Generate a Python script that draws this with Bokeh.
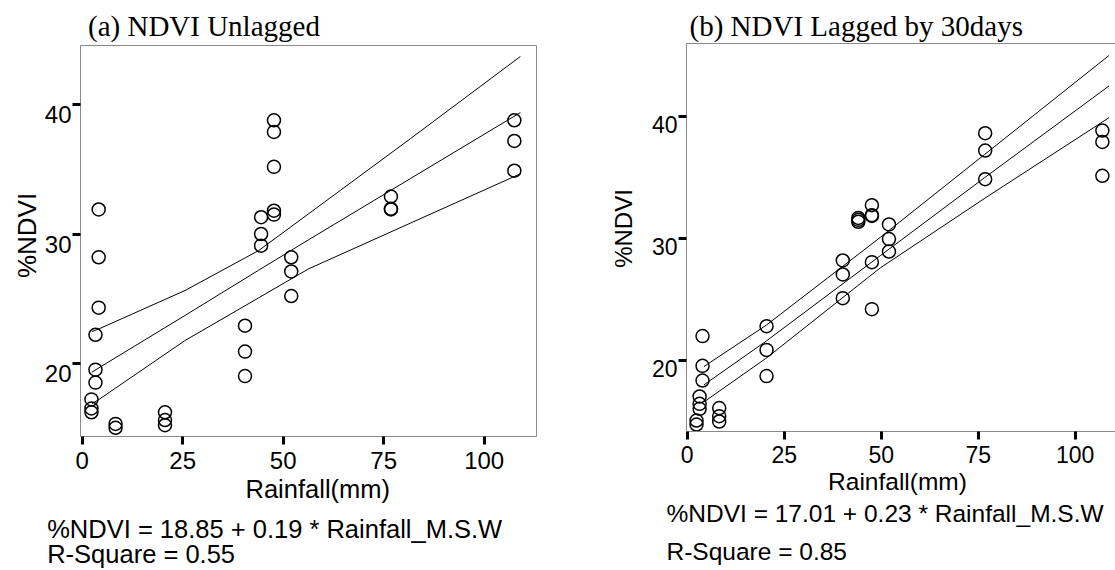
import math
from bokeh.plotting import figure
from bokeh.models import LinearAxis, FixedTicker, Range1d, Label
from bokeh.layouts import row
from bokeh.embed import file_html
from bokeh.resources import INLINE

# ---------------- data ----------------
x_ticks = [0, 25, 50, 75, 100]
y_ticks = [20, 30, 40]

# (a) NDVI unlagged
a_rain = [4.1, 4.1, 4.1, 3.3, 3.3, 3.3, 2.3, 2.3, 2.3, 8.3, 8.3,
          20.6, 20.6, 20.6, 40.5, 40.5, 40.5, 44.5, 44.5, 44.5,
          47.7, 47.7, 47.7, 47.7, 47.7, 52.0, 52.0, 52.0,
          76.8, 76.8, 76.8, 107.5, 107.5, 107.5]
a_ndvi = [31.9, 28.2, 24.3, 22.2, 19.5, 18.5, 17.2, 16.5, 16.2, 15.3, 15.0,
          16.2, 15.6, 15.2, 22.9, 20.9, 19.0, 31.3, 30.0, 29.1,
          38.8, 37.9, 35.2, 31.8, 31.5, 28.2, 27.1, 25.2,
          32.9, 31.9, 31.95, 38.8, 37.2, 34.9]
a_fit_x = [2.4, 4.2, 25.6, 43.9, 56.3, 81.7, 109]
a_fit_mid = [19.3, 19.65, 23.7, 27.2, 29.55, 34.3, 39.4]
a_fit_upper = [22.45, 22.66, 25.63, 28.72, 31.56, 37.39, 43.74]
a_fit_lower = [16.86, 17.2, 21.76, 25.06, 27.3, 30.85, 34.66]

# (b) NDVI lagged by 30 days
b_rain = [3.95, 3.95, 3.95, 3.2, 3.2, 3.2, 2.4, 2.4, 8.25, 8.25, 8.25,
          20.45, 20.45, 20.45, 40.1, 40.1, 40.1, 44.1, 44.1, 44.1,
          47.6, 47.6, 47.6, 47.6, 47.6, 52.0, 52.0, 52.0,
          76.8, 76.8, 76.8, 107.0, 107.0, 107.0]
b_ndvi = [22.0, 19.56, 18.36, 17.05, 16.45, 16.04, 15.08, 14.75, 16.1, 15.44, 15.0,
          22.81, 20.87, 18.72, 28.2, 27.05, 25.11, 31.69, 31.53, 31.37,
          32.73, 31.91, 31.85, 28.06, 24.21, 31.15, 29.95, 28.93,
          38.63, 37.21, 34.86, 38.85, 37.92, 35.14]
b_fit_x = [4.3, 20.4, 49.8, 76.7, 108.7]
b_fit_mid = [18.0, 21.6, 28.6, 35.0, 42.5]
b_fit_upper = [19.5, 22.9, 30.1, 36.9, 45.0]
b_fit_lower = [16.6, 20.2, 27.6, 33.3, 39.9]

title_a = "(a) NDVI Unlagged"
title_b = "(b) NDVI Lagged by 30days"
x_title = "Rainfall(mm)"
y_title = "%NDVI"
eq_a = "%NDVI = 18.85 + 0.19 * Rainfall_M.S.W"
r2_a = "R-Square = 0.55"
eq_b = "%NDVI = 17.01 + 0.23 * Rainfall_M.S.W"
r2_b = "R-Square = 0.85"

SANS = "Liberation Sans"
SERIF = "Liberation Serif"
GRAY = "#8a8a8a"
H = 570


class Geo:
    """Pixel calibration of one panel: canvas left (page px) and width,
    page px of x=0, px per x unit, page px of y=40, px per y unit."""
    def __init__(self, left, width, x0px, sx, y40px, sy):
        self.left, self.width = left, width
        self.x0px, self.sx, self.y40px, self.sy = x0px, sx, y40px, sy

    def dx(self, px):
        return (px - self.x0px) / self.sx

    def dy(self, py):
        return 40 - (py - self.y40px) / self.sy


def panel(g, box_px, rain, ndvi, fx, fmid, fup, flo, texts, label_shift_px,
          x_standoff, tick_size, draw_right):
    xr = (g.dx(g.left), g.dx(g.left + g.width))
    yr = (g.dy(H), g.dy(0))
    bx0, bx1 = g.dx(box_px[0]), g.dx(box_px[1])
    by1, by0 = g.dy(box_px[2]), g.dy(box_px[3])
    p = figure(width=g.width, height=H, x_range=Range1d(*xr), y_range=Range1d(*yr),
               output_backend="svg", toolbar_location=None, title=None, min_border=0)
    p.xgrid.visible = False
    p.ygrid.visible = False
    p.outline_line_color = None
    p.background_fill_color = "white"
    p.border_fill_color = "white"

    xa, ya = p.xaxis[0], p.yaxis[0]
    xa.fixed_location = by0
    xa.bounds = (bx0, bx1)
    ya.fixed_location = bx0
    ya.bounds = (by0, by1)
    for ax in (xa, ya):
        ax.axis_line_color = GRAY
        ax.axis_line_width = 1
        ax.major_tick_line_color = "black"
        ax.major_tick_line_width = 3
        ax.major_tick_out = 8
        ax.major_tick_in = 0
        ax.minor_tick_line_color = None
        ax.major_label_text_font = SANS
        ax.major_label_text_color = "black"
    xa.ticker = FixedTicker(ticks=x_ticks)
    xa.major_label_text_font_size = tick_size
    xa.major_label_standoff = x_standoff
    ya.ticker = FixedTicker(ticks=y_ticks)
    ya.major_label_text_font_size = "1px"
    ya.major_label_text_color = None

    # y labels sit just below their tick, as in the original
    shifted = [t - label_shift_px / g.sy for t in y_ticks]
    lab_axis = LinearAxis(fixed_location=bx0, bounds=(by0, by1),
                          ticker=FixedTicker(ticks=shifted),
                          major_label_overrides={s: str(t) for s, t in zip(shifted, y_ticks)},
                          axis_line_color=None, major_tick_line_color=None,
                          major_tick_out=0, major_tick_in=0, minor_tick_line_color=None,
                          major_label_standoff=9, major_label_text_font=SANS,
                          major_label_text_font_size=tick_size, major_label_text_color="black")
    p.add_layout(lab_axis, "left")

    # remaining frame sides
    top_axis = LinearAxis(fixed_location=by1, bounds=(bx0, bx1), ticker=FixedTicker(ticks=[]),
                          axis_line_color=GRAY, major_tick_line_color=None,
                          minor_tick_line_color=None, major_label_text_color=None)
    p.add_layout(top_axis, "above")
    if draw_right:
        right_axis = LinearAxis(fixed_location=bx1, bounds=(by0, by1), ticker=FixedTicker(ticks=[]),
                                axis_line_color=GRAY, major_tick_line_color=None,
                                minor_tick_line_color=None, major_label_text_color=None)
        p.add_layout(right_axis, "right")

    p.line(fx, fup, line_color="black", line_width=1)
    p.line(fx, fmid, line_color="black", line_width=1)
    p.line(fx, flo, line_color="black", line_width=1)
    p.scatter(rain, ndvi, marker="circle", size=13, fill_color=None,
              line_color="black", line_width=1.5)

    for (txt, px, py, font, size, align, baseline, angle) in texts:
        p.add_layout(Label(x=g.dx(px), y=g.dy(py), text=txt, text_font=font,
                           text_font_size=size, text_align=align, text_baseline=baseline,
                           angle=angle, text_color="black"))
    return p


# ---- panel (a) ----
ga = Geo(0, 608, 81.7, 4.02, 104.3, 12.92)
pa = panel(ga, (80, 536, 45, 436), a_rain, a_ndvi, a_fit_x, a_fit_mid, a_fit_upper, a_fit_lower,
           [(title_a, 87.5, 25, SERIF, "29px", "left", "alphabetic", 0),
            (y_title, 26, 235, SANS, "26px", "center", "middle", math.pi / 2),
            (x_title, 245, 488, SANS, "25.5px", "left", "alphabetic", 0),
            (eq_a, 46.7, 528, SANS, "25.5px", "left", "alphabetic", 0),
            (r2_a, 46.7, 553, SANS, "25.5px", "left", "alphabetic", 0)],
           10, 7, "24px", True)

# ---- panel (b) ----
gb = Geo(608, 507, 686.7, 3.88, 116.0, 12.2)
pb = panel(gb, (686, 1115, 43, 431), b_rain, b_ndvi, b_fit_x, b_fit_mid, b_fit_upper, b_fit_lower,
           [(title_b, 689, 25, SERIF, "29px", "left", "alphabetic", 0),
            (y_title, 622.5, 228, SANS, "24px", "center", "middle", math.pi / 2),
            (x_title, 897, 481, SANS, "24.5px", "center", "alphabetic", 0),
            (eq_b, 666, 513, SANS, "24.5px", "left", "alphabetic", 0),
            (r2_b, 666, 551, SANS, "24.5px", "left", "alphabetic", 0)],
           8, 6, "23px", False)

layout = row(pa, pb, spacing=0)
open("out.html", "w").write(file_html(layout, INLINE))
